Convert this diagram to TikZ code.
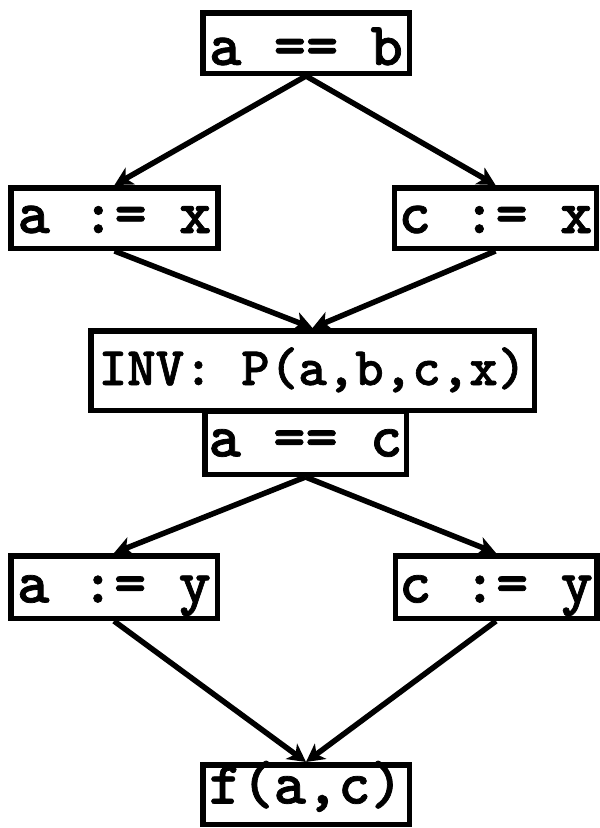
\documentclass[tikz,border=0pt]{standalone}
\usepackage{fontspec}
\setmonofont{lmmono10-regular.otf}[BoldFont=lmmonolt10-bold.otf, BoldFeatures={FakeBold=1.2}]
\usetikzlibrary{arrows.meta}
\tikzset{
  cbox/.style={draw, line width=5.5pt, inner sep=0pt, text depth=0pt,
    font={\fontsize{61.5}{66}\selectfont\ttfamily\bfseries}},
  invbox/.style={cbox, font={\fontsize{54.3}{60}\selectfont\ttfamily\bfseries}},
  flow/.style={line width=5.5pt, -{Stealth[length=18pt,width=19pt,inset=5pt]}}
}
\begin{document}
\begin{tikzpicture}[x=1pt,y=1pt]
\useasboundingbox (0,0) rectangle (600,-828);
\node[cbox, minimum width=206.5pt, minimum height=60.5pt, text height=44pt] (b1) at (306,-43) {a == b};
\node[cbox, minimum width=207pt, minimum height=60.5pt, text height=30pt] (b2) at (114.5,-218) {a := x};
\node[cbox, minimum width=202pt, minimum height=60.5pt, text height=30pt] (b3) at (495.5,-218) {c := x};
\node[invbox, minimum width=443.5pt, minimum height=79.5pt, text height=29pt] (inv) at (312.5,-370.5) {INV: P(a,b,c,x)};
\node[cbox, minimum width=201.5pt, minimum height=63.5pt, text height=28pt] (b4) at (305.5,-442.5) {a == c};
\node[cbox, minimum width=206.5pt, minimum height=62.5pt, text height=31pt] (b5) at (114,-587) {a := y};
\node[cbox, minimum width=201.5pt, minimum height=62.5pt, text height=31pt] (b6) at (496,-587) {c := y};
\node[cbox, minimum width=206.5pt, minimum height=59.5pt, text height=18pt] (b7) at (306,-794.5) {f(a,c)};
\draw[flow] (b1.south) -- (b2.north);
\draw[flow] (b1.south) -- (b3.north);
\draw[flow] (b2.south) -- (inv.north);
\draw[flow] (b3.south) -- (inv.north);
\draw[flow] (b4.south) -- (b5.north);
\draw[flow] (b4.south) -- (b6.north);
\draw[flow] (b5.south) -- (b7.north);
\draw[flow] (b6.south) -- (b7.north);
\end{tikzpicture}
\end{document}
